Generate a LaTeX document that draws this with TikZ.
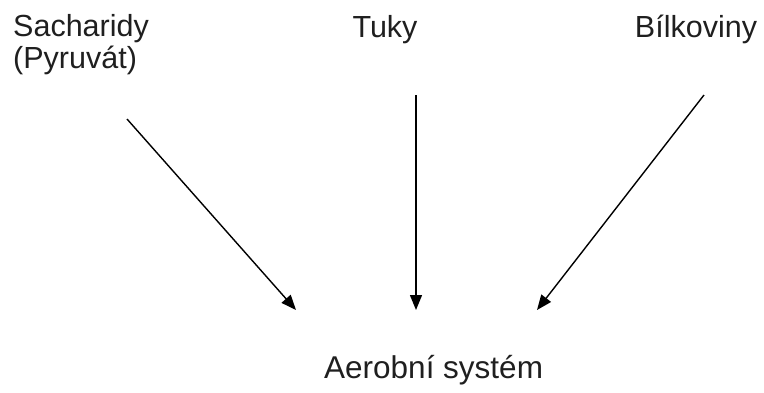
\documentclass[tikz,border=0pt]{standalone}
\usepackage{fontspec}
\setmainfont{Liberation Sans}
\usetikzlibrary{arrows.meta}
\begin{document}
\begin{tikzpicture}[x=1pt,y=-1pt,
  label text/.style={inner sep=0pt, font=\fontsize{30.5}{32}\selectfont, text=black!88},
  feed/.style={line width=1.4pt, -{Triangle[length=15pt,width=12pt]}}]
  \useasboundingbox (0,0) rectangle (764,392);
  % nutrient sources
  \node[label text, anchor=base west, align=left] (sach) at (13,68) {Sacharidy\\(Pyruvát)};
  \node[label text, anchor=base] (tuky) at (385,37) {Tuky};
  \node[label text, anchor=base] (bilk) at (696,37) {Bílkoviny};
  % target system
  \node[label text, anchor=base west, font=\fontsize{31.5}{32}\selectfont] (aero) at (324,378) {Aerobní systém};
  % arrow end points
  \coordinate (s1) at (127,119);
  \coordinate (s2) at (416,95);
  \coordinate (s3) at (704,95);
  \coordinate (t1) at (296,310);
  \coordinate (t2) at (416,310);
  \coordinate (t3) at (537,310);
  \draw[feed] (s1) -- (t1);
  \draw[feed] (s2) -- (t2);
  \draw[feed] (s3) -- (t3);
\end{tikzpicture}
\end{document}
